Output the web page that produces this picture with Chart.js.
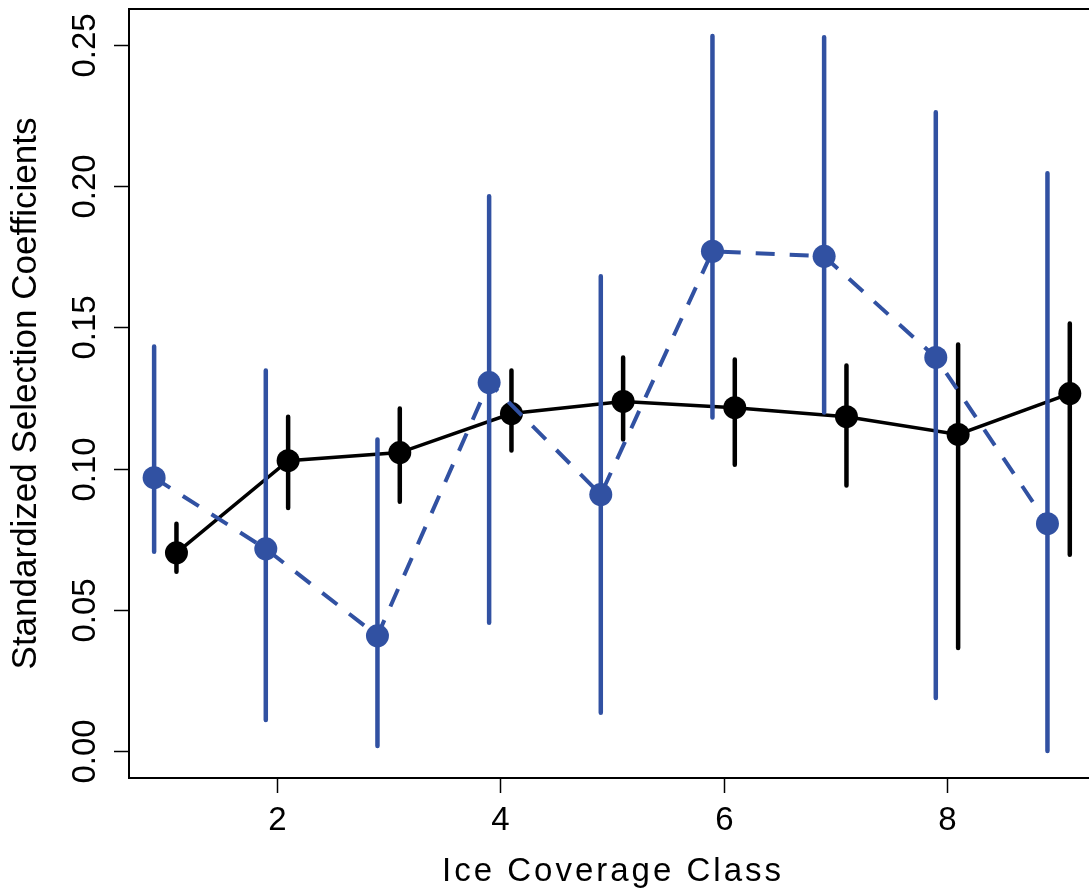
<!DOCTYPE html>
<html>
<head>
<meta charset="utf-8">
<script src="https://cdn.jsdelivr.net/npm/chart.js@4"></script>
<style>
  html, body { margin: 0; padding: 0; background: #fff; overflow: hidden; }
  #wrap { position: absolute; left: 0; top: 0; width: 1089px; height: 890px; }
</style>
</head>
<body>
<div id="wrap"><canvas id="chart" width="1089" height="890"></canvas></div>
<script>
// Ice coverage classes and selection coefficients
const classes = [1, 2, 3, 4, 5, 6, 7, 8, 9];

const blueMean = [0.0968, 0.0716, 0.0408, 0.1305, 0.0908, 0.1770, 0.1752, 0.1394, 0.0805];
const blueLow  = [0.0706, 0.0110, 0.0018, 0.0454, 0.0135, 0.1181, 0.1199, 0.0188, 0.0000];
const blueHigh = [0.1433, 0.1348, 0.1103, 0.1965, 0.1681, 0.2532, 0.2528, 0.2262, 0.2046];

const blackMean = [0.0702, 0.1028, 0.1057, 0.1195, 0.1238, 0.1216, 0.1184, 0.1121, 0.1266];
const blackLow  = [0.0635, 0.0861, 0.0883, 0.1064, 0.1103, 0.1014, 0.0940, 0.0365, 0.0695];
const blackHigh = [0.0805, 0.1184, 0.1213, 0.1348, 0.1394, 0.1387, 0.1365, 0.1440, 0.1514];

const xTicks = [2, 4, 6, 8];
const yTicks = [0.00, 0.05, 0.10, 0.15, 0.20, 0.25];

const BLUE = "#3151a2";
const FONT = "'Liberation Sans', Arial, Helvetica, sans-serif";

// series are dodged a little to each side of the class
function points(mean, shift) {
    return classes.map((c, i) => ({ x: c + shift, y: mean[i] }));
}

// vertical bars as one line dataset broken by gaps
function bars(low, high, shift) {
    const out = [];
    classes.forEach((c, i) => {
        out.push({ x: c + shift, y: low[i] });
        out.push({ x: c + shift, y: high[i] });
        out.push({ x: c + shift, y: null });
    });
    return out;
}

// R-style box (right side runs off the page), ticks and labels
const axesPlugin = {
    id: "rAxes",
    afterDraw(chart) {
        const { ctx, chartArea: a, scales } = chart;
        ctx.save();
        ctx.strokeStyle = "#000";
        ctx.lineWidth = 2;
        ctx.beginPath();
        ctx.moveTo(chart.width, a.top);
        ctx.lineTo(a.left, a.top);
        ctx.lineTo(a.left, a.bottom);
        ctx.lineTo(chart.width, a.bottom);
        ctx.stroke();

        ctx.fillStyle = "#000";
        ctx.font = "33px " + FONT;
        ctx.lineWidth = 1.5;

        ctx.textAlign = "center";
        ctx.textBaseline = "middle";
        xTicks.forEach(t => {
            const px = Math.round(scales.x.getPixelForValue(t)) + 0.5;
            ctx.beginPath();
            ctx.moveTo(px, a.bottom);
            ctx.lineTo(px, a.bottom + 15);
            ctx.stroke();
            ctx.fillText(String(t), px, 821);
        });

        yTicks.forEach(t => {
            const py = Math.round(scales.y.getPixelForValue(t)) + 0.5;
            ctx.beginPath();
            ctx.moveTo(a.left - 15, py);
            ctx.lineTo(a.left, py);
            ctx.stroke();
            ctx.save();
            ctx.translate(86, py);
            ctx.rotate(-Math.PI / 2);
            ctx.fillText(t.toFixed(2), 0, 0);
            ctx.restore();
        });

        // axis titles
        ctx.save();
        ctx.letterSpacing = "3px";
        ctx.fillText("Ice Coverage Class", 613, 872);
        ctx.restore();

        ctx.save();
        ctx.font = "35px " + FONT;
        ctx.translate(26, (a.top + a.bottom) / 2);
        ctx.rotate(-Math.PI / 2);
        ctx.fillText("Standardized Selection Coefficients", 0, 0);
        ctx.restore();

        ctx.restore();
    }
};

const ctx = document.getElementById("chart").getContext("2d");

new Chart(ctx, {
    type: "line",
    data: {
        datasets: [
            {
                data: points(blueMean, -0.1),
                borderColor: BLUE,
                backgroundColor: BLUE,
                borderWidth: 4,
                borderDash: [19, 15],
                pointRadius: 11.5,
                pointBorderWidth: 0,
                tension: 0,
            },
            {
                data: bars(blueLow, blueHigh, -0.1),
                borderColor: BLUE,
                borderWidth: 4.5,
                borderCapStyle: "round",
                pointRadius: 0,
                spanGaps: false,
            },
            {
                data: points(blackMean, 0.1),
                borderColor: "#000",
                backgroundColor: "#000",
                borderWidth: 3.5,
                pointRadius: 11.5,
                pointBorderWidth: 0,
                tension: 0,
            },
            {
                data: bars(blackLow, blackHigh, 0.1),
                borderColor: "#000",
                borderWidth: 4.5,
                borderCapStyle: "round",
                pointRadius: 0,
                spanGaps: false,
            },
        ],
    },
    options: {
        responsive: false,
        animation: false,
        layout: {
            autoPadding: false,
            padding: { left: 129, top: 9, right: 0, bottom: 112 },
        },
        plugins: {
            legend: { display: false },
            tooltip: { enabled: false },
        },
        scales: {
            x: { type: "linear", min: 0.675, max: 9.272, display: false },
            y: { type: "linear", min: -0.00957, max: 0.2628, display: false },
        },
    },
    plugins: [axesPlugin],
});
</script>
</body>
</html>
